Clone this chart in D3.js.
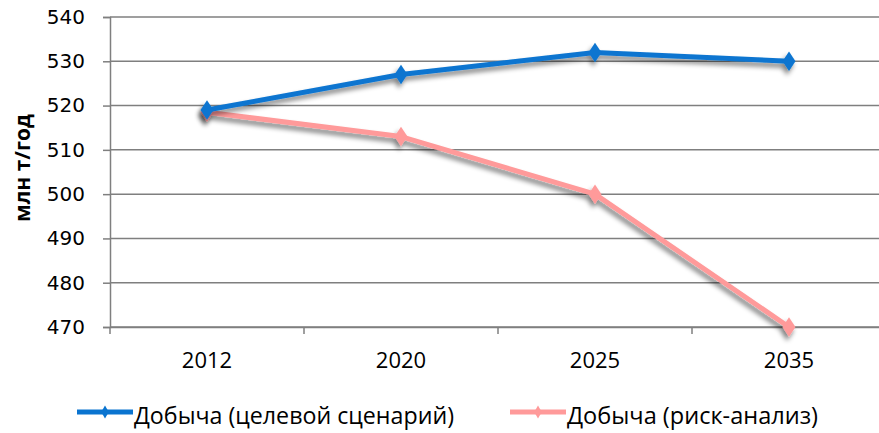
<!DOCTYPE html>
<html><head><meta charset="utf-8">
<script src="https://cdn.jsdelivr.net/npm/d3@7"></script>
<style>
body{margin:0;background:#fff;}
svg{display:block;}
</style></head>
<body>
<svg id="chart" width="879" height="433"></svg>
<script>
const categories = ["2012", "2020", "2025", "2035"];
const targetValues = [519, 527, 532, 530];
const riskValues = [518.5, 513, 500, 470];
const yTicks = [470, 480, 490, 500, 510, 520, 530, 540];
const seriesNames = ["Добыча (целевой сценарий)", "Добыча (риск-анализ)"];
const seriesColors = ["#0a74d0", "#ff9a9a"];

(function () {
const series = [
  {name: seriesNames[0], values: targetValues, color: seriesColors[0]},
  {name: seriesNames[1], values: riskValues, color: seriesColors[1]}
];

const svg = d3.select("#chart");
const pLeft = 110, pRight = 886, pTop = 17, pBottom = 327;

const defs = svg.append("defs");
const f = defs.append("filter").attr("id","shadow").attr("x","-20%").attr("y","-20%").attr("width","140%").attr("height","160%");
f.append("feGaussianBlur").attr("in","SourceAlpha").attr("stdDeviation",2.5).attr("result","b");
f.append("feOffset").attr("in","b").attr("dx",-2).attr("dy",4).attr("result","o");
f.append("feComponentTransfer").attr("in","o").attr("result","o2")
  .append("feFuncA").attr("type","linear").attr("slope",0.5);
const m = f.append("feMerge");
m.append("feMergeNode").attr("in","o2");
m.append("feMergeNode").attr("in","SourceGraphic");

const x = d3.scaleBand().domain(categories).range([pLeft, pRight]);
const y = d3.scaleLinear().domain([470, 540]).range([pBottom, pTop]);

svg.append("g").selectAll("line").data(yTicks).join("line")
  .attr("x1", pLeft).attr("x2", 879)
  .attr("y1", d => y(d)).attr("y2", d => y(d))
  .attr("stroke", "#7f7f7f").attr("stroke-width", 1.5);

const yAxis = svg.append("g").attr("transform", `translate(${pLeft},0)`)
  .call(d3.axisLeft(y).tickValues(yTicks).tickSize(7).tickPadding(18));
yAxis.select(".domain").attr("stroke", "#7f7f7f").attr("stroke-width", 1.5);
yAxis.selectAll(".tick line").attr("stroke", "#7f7f7f").attr("stroke-width", 1.5);
yAxis.selectAll(".tick text").attr("font-family", "'URW Gothic','Century Gothic','DejaVu Sans',sans-serif")
  .attr("font-size", 20).attr("fill", "#000");

const xAxis = svg.append("g").attr("transform", `translate(0,${pBottom})`)
  .call(d3.axisBottom(x).tickSize(0).tickPadding(25));
xAxis.select(".domain").attr("stroke", "#7f7f7f").attr("stroke-width", 1.5);
xAxis.selectAll(".tick text").attr("font-family", "'Open Sans',sans-serif")
  .attr("font-size", 22).attr("fill", "#000");
svg.append("g").selectAll("line").data(categories).join("line")
  .attr("x1", d => x(d)).attr("x2", d => x(d))
  .attr("y1", pBottom).attr("y2", pBottom + 7)
  .attr("stroke", "#7f7f7f").attr("stroke-width", 1.5);

svg.append("text")
  .attr("transform", `translate(30,${(pTop + pBottom) / 2 - 4}) rotate(-90)`)
  .attr("text-anchor", "middle")
  .attr("font-family", "'Open Sans','DejaVu Sans',sans-serif")
  .attr("font-weight", "bold").attr("font-size", 21)
  .text("млн т/год");

const line = d3.line().x((d, i) => x(categories[i]) + x.bandwidth() / 2).y(d => y(d));
const diamond = d3.symbol().type(d3.symbolDiamond).size(110);

series.slice().reverse().forEach(s => {
  const g = svg.append("g").attr("filter", "url(#shadow)");
  g.append("path").datum(s.values).attr("d", line)
    .attr("fill", "none").attr("stroke", s.color).attr("stroke-width", 5)
    .attr("stroke-linejoin", "round");
  g.selectAll("path.mk").data(s.values).join("path").attr("class", "mk")
    .attr("d", diamond)
    .attr("transform", (d, i) => `translate(${x(categories[i]) + x.bandwidth() / 2},${y(d)}) scale(1.15,1)`)
    .attr("fill", s.color);
});

const legX = [77, 510];
const legLen = [320, 251];
series.forEach((s, i) => {
  const g = svg.append("g").attr("transform", `translate(${legX[i]},412)`);
  g.append("line").attr("x1", 0).attr("x2", 56).attr("y1", 0).attr("y2", 0)
    .attr("stroke", s.color).attr("stroke-width", 5);
  g.append("path").attr("d", d3.symbol().type(d3.symbolDiamond).size(50)).attr("transform", "translate(28,0)")
    .attr("fill", s.color);
  g.append("text").attr("x", 57).attr("y", 12)
    .attr("font-family", "'Open Sans',sans-serif")
    .attr("font-size", 23)
    .attr("textLength", legLen[i]).attr("lengthAdjust", "spacingAndGlyphs")
    .text(s.name);
});
})();
</script>
</body></html>
